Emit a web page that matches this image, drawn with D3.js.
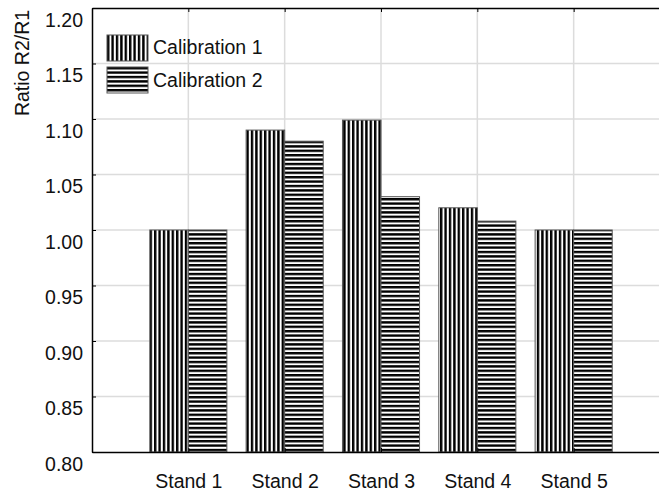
<!DOCTYPE html>
<html>
<head>
<meta charset="utf-8">
<script src="https://cdn.jsdelivr.net/npm/d3@7"></script>
<style>
  body { margin: 0; background: white; }
  svg { display: block; font-family: "Liberation Sans", Arial, sans-serif; }
</style>
</head>
<body>
<div id="chart"></div>
<script>
    // data
    var stands = ["Stand 1", "Stand 2", "Stand 3", "Stand 4", "Stand 5"];
    var calibration1 = [1.00, 1.09, 1.099, 1.02, 1.00];
    var calibration2 = [1.00, 1.08, 1.03, 1.008, 1.00];
    var seriesNames = ["Calibration 1", "Calibration 2"];
    var yTicks = [0.80, 0.85, 0.90, 0.95, 1.00, 1.05, 1.10, 1.15, 1.20];

    var gridColor = "#dcdcdc";
    var fontSize = 19.5;

    const width = 659, height = 493;
    // plot frame, the right edge runs past the window
    const plotLeft = 92, plotTop = 8, plotRight = 670, plotBottom = 452;

    const svg = d3.select("#chart")
      .append("svg")
      .attr("width", width)
      .attr("height", height);

    // stripe patterns
    const defs = svg.append("defs");
    defs.append("pattern")
      .attr("id", "vstripe")
      .attr("patternUnits", "userSpaceOnUse")
      .attr("width", 4.4).attr("height", 10)
      .call(p => {
        p.append("rect").attr("width", 4.4).attr("height", 10).attr("fill", "white");
        p.append("rect").attr("width", 2.4).attr("height", 10).attr("fill", "black");
      });
    defs.append("pattern")
      .attr("id", "hstripe")
      .attr("patternUnits", "userSpaceOnUse")
      .attr("width", 10).attr("height", 4.4)
      .call(p => {
        p.append("rect").attr("width", 10).attr("height", 4.4).attr("fill", "white");
        p.append("rect").attr("width", 10).attr("height", 2.4).attr("fill", "black");
      });
    var fills = ["url(#vstripe)", "url(#hstripe)"];

    // scales: one unit per stand, bars centred on the gridlines
    const x = d3.scaleLinear().domain([0, 6]).range([plotLeft, plotRight]);
    const y = d3.scaleLinear().domain([0.80, 1.20]).range([plotBottom, plotTop]);
    const barW = 0.4;

    // grid
    svg.append("g")
      .selectAll("line")
      .data(yTicks.slice(1, -1))
      .enter()
      .append("line")
      .attr("x1", plotLeft).attr("x2", plotRight)
      .attr("y1", d => y(d)).attr("y2", d => y(d))
      .attr("stroke", gridColor)
      .attr("stroke-width", 1.5);

    svg.append("g")
      .selectAll("line")
      .data(d3.range(1, 6))
      .enter()
      .append("line")
      .attr("x1", d => x(d)).attr("x2", d => x(d))
      .attr("y1", plotTop).attr("y2", plotBottom)
      .attr("stroke", gridColor)
      .attr("stroke-width", 1.5);

    // bars
    var series = [calibration1, calibration2];
    series.forEach(function (vals, s) {
      svg.append("g")
        .selectAll("rect")
        .data(vals)
        .enter()
        .append("rect")
        .attr("x", (d, i) => x(i + 1 - barW + s * barW))
        .attr("width", x(barW) - x(0))
        .attr("y", d => y(d))
        .attr("height", d => y(0.80) - y(d))
        .attr("fill", fills[s])
        .attr("stroke", "#555")
        .attr("stroke-width", 1);
    });

    // y axis
    svg.append("g")
      .attr("transform", `translate(${plotLeft},0)`)
      .call(d3.axisLeft(y).tickValues(yTicks).tickFormat(d3.format(".2f")).tickSizeInner(-4).tickSizeOuter(0))
      .call(g => g.select(".domain").attr("stroke", "black").attr("stroke-width", 1.5))
      .call(g => g.selectAll(".tick line").attr("stroke", "black"))
      .selectAll("text")
      .attr("x", -9)
      .attr("y", 12)
      .attr("fill", "#111")
      .style("font-size", fontSize + "px")
      .style("font-family", "Liberation Sans, Arial, sans-serif");

    // bottom axis
    svg.append("g")
      .attr("transform", `translate(0,${plotBottom})`)
      .call(d3.axisBottom(x).tickValues(d3.range(1, 6)).tickFormat(d => stands[d - 1]).tickSizeInner(-4).tickSizeOuter(0))
      .call(g => g.select(".domain").attr("stroke", "black").attr("stroke-width", 1.5))
      .call(g => g.selectAll(".tick line").attr("stroke", "black"))
      .selectAll("text")
      .attr("y", 36)
      .attr("dy", 0)
      .attr("fill", "#111")
      .style("font-size", fontSize + "px")
      .style("font-family", "Liberation Sans, Arial, sans-serif");

    // top frame
    svg.append("g")
      .attr("transform", `translate(0,${plotTop})`)
      .call(d3.axisTop(x).tickValues(d3.range(1, 6)).tickFormat("").tickSizeInner(-4).tickSizeOuter(0))
      .call(g => g.select(".domain").attr("stroke", "black").attr("stroke-width", 1.5))
      .call(g => g.selectAll(".tick line").attr("stroke", "black"));

    // y title
    svg.append("text")
      .attr("transform", "translate(29,63) rotate(-90)")
      .attr("text-anchor", "middle")
      .attr("fill", "#111")
      .style("font-size", fontSize + "px")
      .text("Ratio R2/R1");

    // legend
    const legend = svg.append("g")
      .selectAll("g")
      .data(seriesNames)
      .enter()
      .append("g")
      .attr("transform", (d, i) => `translate(107,${35 + i * 32})`);
    legend.append("rect")
      .attr("width", 41).attr("height", 26)
      .attr("fill", (d, i) => fills[i])
      .attr("stroke", "#555")
      .attr("stroke-width", 1);
    legend.append("text")
      .attr("x", 46)
      .attr("y", (d, i) => 19 + i * 1)
      .attr("fill", "#111")
      .style("font-size", fontSize + "px")
      .text(d => d);
</script>
</body>
</html>
